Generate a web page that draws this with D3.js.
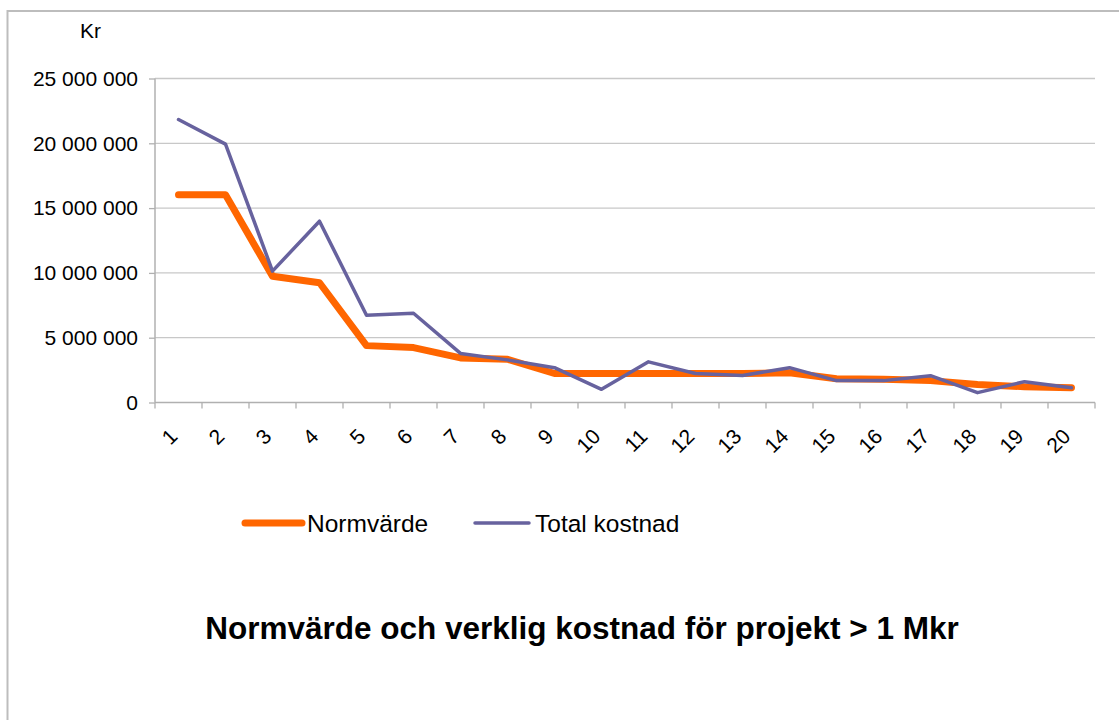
<!DOCTYPE html>
<html><head><meta charset="utf-8">
<script src="https://cdn.jsdelivr.net/npm/d3@7"></script>
<style>body{margin:0;background:#fff;font-family:"Liberation Sans",Arial,sans-serif}</style>
</head><body>
<svg id="c" width="1119" height="720"></svg>
<script>
const categories = ["1","2","3","4","5","6","7","8","9","10","11","12","13","14","15","16","17","18","19","20"];
const normvarde = [16000000,16000000,9700000,9200000,4350000,4200000,3400000,3300000,2200000,2200000,2200000,2200000,2200000,2250000,1800000,1750000,1650000,1350000,1180000,1100000];
const totalKostnad = [21800000,19900000,10100000,13950000,6700000,6850000,3750000,3250000,2650000,980000,3100000,2200000,2050000,2650000,1650000,1650000,2030000,720000,1570000,1100000];
const yTicks = [0,5000000,10000000,15000000,20000000,25000000];
const seriesNames = ["Normvärde","Total kostnad"];
const colors = ["#FF6600","#67629E"];

const svg = d3.select("#c");
svg.append("rect").attr("x",7.5).attr("y",11).attr("width",1200).attr("height",800)
  .attr("fill","none").attr("stroke","#bdbdbd").attr("stroke-width",2);

const L=155,R=1095,T=78,B=402;
const x = d3.scaleBand().domain(categories).range([L,R]);
const y = d3.scaleLinear().domain([0,25000000]).range([B,T]);
const fmt = v => d3.format(",")(v).replace(/,/g," ");

// gridlines
svg.append("g").selectAll("line").data(yTicks.filter(d=>d>0)).join("line")
  .attr("x1",L).attr("x2",R).attr("y1",d=>y(d)+0.5).attr("y2",d=>y(d)+0.5)
  .attr("stroke","#c8c8c8").attr("stroke-width",1.3);

// y axis
const ya = svg.append("g").attr("transform",`translate(${L},0.5)`)
  .call(d3.axisLeft(y).tickValues(yTicks).tickFormat(fmt).tickSize(6).tickPadding(11));
ya.select(".domain").attr("stroke","#b0b0b0").attr("stroke-width",1.5).attr("d",`M0,${T}V${B}`);
ya.selectAll(".tick line").attr("stroke","#b0b0b0").attr("stroke-width",1.3);
ya.selectAll("text").attr("font-size",21).attr("font-family","Liberation Sans, Arial").attr("fill","#000");

// x axis
const xa = svg.append("g").attr("transform",`translate(0,${B+0.5})`);
xa.append("line").attr("x1",L).attr("x2",R).attr("stroke","#b0b0b0").attr("stroke-width",1.5);
const bounds = categories.map(c=>x(c)).concat([R]);
xa.selectAll("line.tk").data(bounds).join("line").attr("class","tk")
  .attr("x1",d=>d).attr("x2",d=>d).attr("y1",0).attr("y2",6).attr("stroke","#b0b0b0").attr("stroke-width",1.3);
xa.selectAll("text").data(categories).join("text")
  .attr("transform",d=>`translate(${x(d)+x.bandwidth()/2-5},${30}) rotate(-45)`)
  .attr("text-anchor","end").attr("dy","0.35em")
  .attr("font-size",21).attr("fill","#000").text(d=>d);

// Kr
svg.append("text").attr("x",80).attr("y",38).attr("font-size",21).text("Kr");

// lines
const line = d3.line().x((d,i)=>x(categories[i])+x.bandwidth()/2).y(d=>y(d));
svg.append("path").datum(normvarde).attr("d",line).attr("fill","none")
  .attr("stroke",colors[0]).attr("stroke-width",7).attr("stroke-linejoin","round").attr("stroke-linecap","round");
svg.append("path").datum(totalKostnad).attr("d",line).attr("fill","none")
  .attr("stroke",colors[1]).attr("stroke-width",3.5).attr("stroke-linejoin","round").attr("stroke-linecap","round");

// legend
const leg = [{x1:245,x2:302,tx:307,w:7},{x1:475,x2:529,tx:535,w:3.5}];
leg.forEach((l,i)=>{
  svg.append("line").attr("x1",l.x1).attr("x2",l.x2).attr("y1",523).attr("y2",523)
    .attr("stroke",colors[i]).attr("stroke-width",l.w).attr("stroke-linecap","round");
  svg.append("text").attr("x",l.tx).attr("y",532).attr("font-size",24.5).text(seriesNames[i]);
});

// title
svg.append("text").attr("x",582).attr("y",639).attr("text-anchor","middle")
  .attr("font-size",31.5).attr("font-weight","bold").text("Normvärde och verklig kostnad för projekt > 1 Mkr");
</script>
</body></html>
